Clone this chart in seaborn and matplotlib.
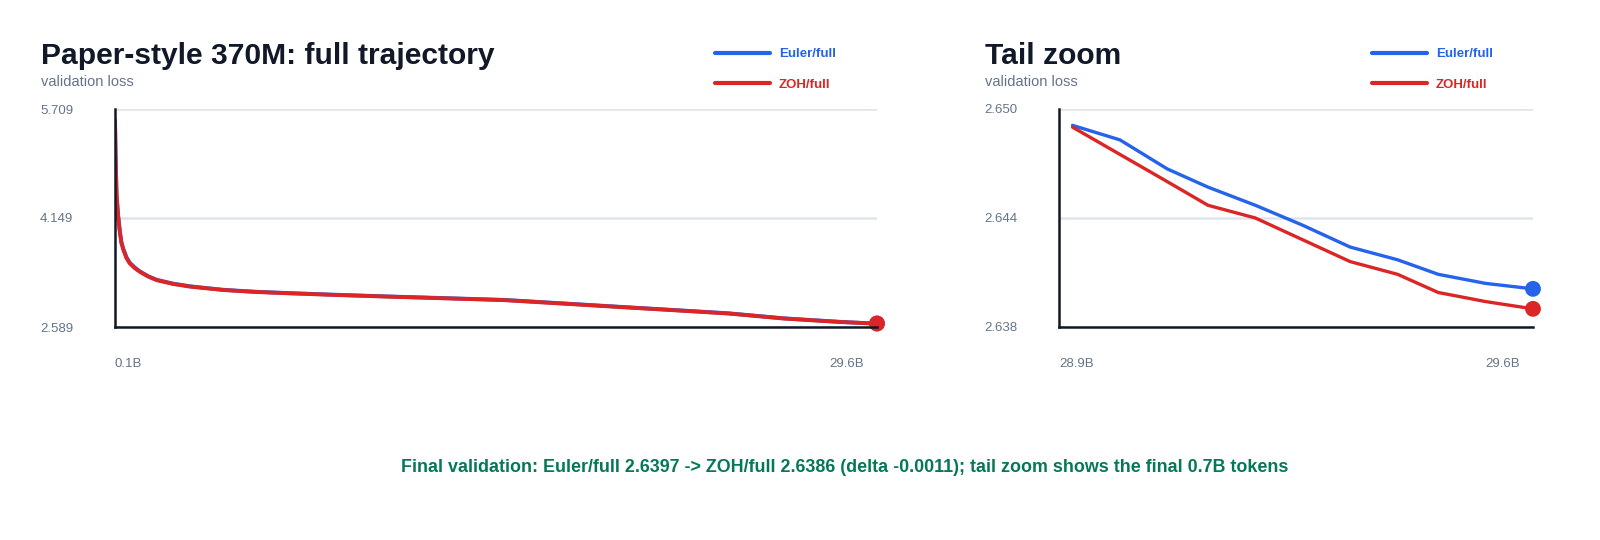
import pandas as pd
import matplotlib.pyplot as plt
import matplotlib.transforms as mtransforms
import seaborn as sns

# head of the run (tokens in billions)
head_tokens = [0.1, 0.12, 0.16, 0.22, 0.29, 0.35, 0.42, 0.54, 0.67, 0.87, 1.06, 1.39,
               1.71, 2.35, 3.0, 3.64, 4.28, 4.92, 5.57, 6.86, 8.67, 10.8, 13.0, 15.15,
               17.35, 19.5, 21.7, 23.85, 26.0, 28.2]
head_zoh = [5.54, 5.05, 4.47, 4.18, 3.94, 3.79, 3.70, 3.58, 3.50, 3.43, 3.38, 3.31,
            3.26, 3.205, 3.167, 3.143, 3.119, 3.104, 3.09, 3.071, 3.047, 3.022, 2.998, 2.974,
            2.926, 2.878, 2.830, 2.782, 2.71, 2.66]
head_euler = [5.55, 5.06, 4.48, 4.19, 3.95, 3.80, 3.71, 3.59, 3.51, 3.44, 3.385, 3.315,
              3.265, 3.21, 3.172, 3.146, 3.122, 3.107, 3.093, 3.074, 3.05, 3.025, 3.001, 2.977,
              2.929, 2.881, 2.833, 2.785, 2.713, 2.662]

# final 0.7B tokens
tail_tokens = [28.92, 28.99, 29.06, 29.12, 29.19, 29.26, 29.33, 29.40, 29.46, 29.53, 29.60]
tail_euler = [2.6487, 2.6479, 2.6463, 2.6453, 2.6443, 2.6432, 2.6420, 2.6413, 2.6405, 2.6400, 2.6397]
tail_zoh = [2.6486, 2.6471, 2.6456, 2.6443, 2.6436, 2.6424, 2.6412, 2.6405, 2.6395, 2.6390, 2.6386]

runs = ["Euler/full", "ZOH/full"]
colors = {"Euler/full": "#2563eb", "ZOH/full": "#dc2626"}

full_ylim = (2.589, 5.709)
tail_ylim = (2.6376, 2.6496)
full_xlim = (0.1, 29.6)
tail_xlim = (28.9, 29.6)

TITLE_C = "#111827"
MUTED = "#64748b"
GRID_C = "#dfe4ef"


def make_frame(tokens, euler, zoh):
    return pd.concat([
        pd.DataFrame({"tokens": tokens, "loss": euler, "run": "Euler/full"}),
        pd.DataFrame({"tokens": tokens, "loss": zoh, "run": "ZOH/full"}),
    ], ignore_index=True)


def draw_panel(fig, rect, df, xlim, ylim, xlabels, title, legend_x, lw):
    ax = fig.add_axes(rect)
    sns.lineplot(data=df, x="tokens", y="loss", hue="run", hue_order=runs,
                 palette=colors, linewidth=lw, ax=ax, legend=False,
                 estimator=None, sort=True)
    last = df.groupby("run").tail(1)
    sns.scatterplot(data=last, x="tokens", y="loss", hue="run", hue_order=runs,
                    palette=colors, s=130, edgecolor="none", ax=ax, legend=False,
                    zorder=5, clip_on=False)
    ax.set_xlim(*xlim)
    ax.set_ylim(*ylim)
    yt = [ylim[0], (ylim[0] + ylim[1]) / 2, ylim[1]]
    ax.set_yticks(yt, [f"{v:.3f}" for v in yt])
    ax.set_xticks(list(xlim), xlabels)
    ax.set_xlabel("")
    ax.set_ylabel("")
    ax.grid(axis="y", color=GRID_C, linewidth=1.8)
    ax.grid(axis="x", visible=False)
    for s in ["top", "right"]:
        ax.spines[s].set_visible(False)
    for s in ["left", "bottom"]:
        ax.spines[s].set_color(TITLE_C)
        ax.spines[s].set_linewidth(1.8)
        ax.spines[s].set_zorder(6)
    ax.tick_params(axis="both", length=0, labelsize=9.5, labelcolor=MUTED)
    ax.tick_params(axis="x", pad=22)
    ax.tick_params(axis="y", pad=54)
    for lab in ax.get_yticklabels():
        lab.set_ha("left")
    xl = ax.get_xticklabels()
    xl[0].set_ha("left")
    xl[1].set_ha("right")
    xl[1].set_transform(xl[1].get_transform()
                        + mtransforms.ScaledTranslation(-0.13, 0, fig.dpi_scale_trans))

    x0 = rect[0] - 74 / 1600
    fig.text(x0, 1 - 63.5 / 540, title, fontsize=21.6, fontweight="bold",
             color=TITLE_C, va="baseline", ha="left")
    fig.text(x0, 1 - 86.5 / 540, "validation loss", fontsize=10.5,
             color=MUTED, va="baseline", ha="left")

    handles = [plt.Line2D([], [], color=colors[r], linewidth=3) for r in runs]
    leg = ax.legend(handles, runs, loc="upper left",
                    bbox_to_anchor=(legend_x, 1 - 48 / 540),
                    bbox_transform=fig.transFigure, frameon=False,
                    handlelength=4.2, handletextpad=0.65, labelspacing=1.4,
                    borderaxespad=0, borderpad=0,
                    prop={"weight": "bold", "size": 9.5})
    for txt, r in zip(leg.get_texts(), runs):
        txt.set_color(colors[r])
    return ax


def main():
    sns.set_theme(style="white")
    plt.rcParams["font.family"] = ["Liberation Sans", "DejaVu Sans"]

    fig = plt.figure(figsize=(16, 5.4), dpi=100)
    fig.patch.set_facecolor("white")

    full_df = make_frame(head_tokens + tail_tokens, head_euler + tail_euler,
                         head_zoh + tail_zoh)
    tail_df = make_frame(tail_tokens, tail_euler, tail_zoh)

    bottom = (540 - 327) / 540
    height = (327 - 109) / 540
    draw_panel(fig, [115 / 1600, bottom, (877 - 115) / 1600, height], full_df,
               full_xlim, full_ylim, ["0.1B", "29.6B"],
               "Paper-style 370M: full trajectory", 715 / 1600, 2.8)
    draw_panel(fig, [1059 / 1600, bottom, (1533 - 1059) / 1600, height], tail_df,
               tail_xlim, tail_ylim, ["28.9B", "29.6B"], "Tail zoom", 1372 / 1600, 2.4)

    fig.text(845 / 1600, 1 - 468 / 540,
             "Final validation: Euler/full 2.6397 -> ZOH/full 2.6386 (delta -0.0011); "
             "tail zoom shows the final 0.7B tokens",
             fontsize=12.9, fontweight="bold", color="#047857", ha="center", va="center")

    fig.savefig("out.png", dpi=100, facecolor="white")
    plt.close(fig)


if __name__ == "__main__":
    main()
